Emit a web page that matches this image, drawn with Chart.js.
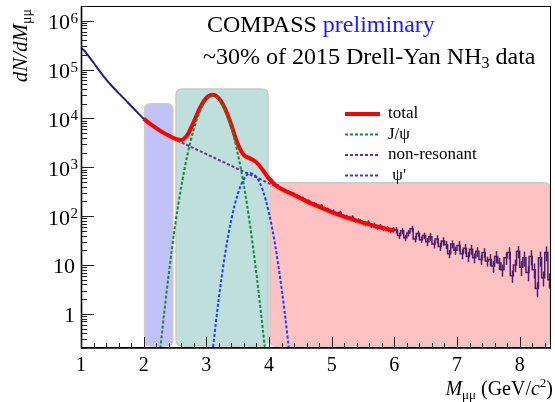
<!DOCTYPE html>
<html>
<head>
<meta charset="utf-8">
<script src="https://cdn.jsdelivr.net/npm/chart.js@4.4.0/dist/chart.umd.min.js"></script>
<style>
  html, body { margin: 0; padding: 0; background: #fff; }
</style>
</head>
<body>
<canvas id="massChart" width="555" height="402"></canvas>
<script>
// === DATA ===
// measured spectrum, smooth low-mass part
const lowMass   = [1.0, 1.05, 1.1, 1.2, 1.3, 1.4, 1.5, 1.6, 1.7, 1.8, 1.9, 2.0, 2.1, 2.2, 2.3, 2.4, 2.5, 2.6, 2.7, 2.8, 2.9, 3.0, 3.1, 3.2, 3.3, 3.4, 3.5, 3.6, 3.7, 3.8, 3.9, 4.0];
const lowCounts = [275000, 245000, 205000, 138000, 92000, 63000, 45000, 33000, 24500, 18000, 13300, 9800, 7700, 6300, 5200, 4400, 3800, 3550, 4500, 8300, 16800, 26500, 30000, 25200, 15900, 7400, 3100, 1800, 1550, 1230, 900, 570];

// measured spectrum, binned high-mass part (0.05 GeV bins from 4.0)
const histStart = 4.0;
const histBinWidth = 0.05;
const histCounts = [
  560, 470, 430, 380, 350, 330, 300, 290, 265, 250,
  235, 215, 205, 185, 180, 160, 165, 145, 140, 128,
  125, 112, 118, 100, 98, 92, 95, 80, 84, 75,
  70, 74, 64, 66, 58, 62, 55, 57, 50, 54,
  52, 40, 50, 36, 45, 55, 34, 44, 33, 40,
  30, 38, 27, 34, 24, 31, 26, 17, 27, 20,
  25, 17, 22, 15, 21, 14, 19, 13, 18, 12,
  13, 9.5, 15, 11, 8, 14, 18, 6, 10, 19,
  9, 14, 7, 15, 8, 3.3, 14, 5.5, 18, 5
];
// relative size of the error bars, one value per 0.5 GeV slice from 4.0
const histRelErr = [0.05, 0.07, 0.09, 0.11, 0.15, 0.19, 0.23, 0.28, 0.34];

// fit components
const fitMass     = [2.0, 2.1, 2.2, 2.3, 2.4, 2.5, 2.6, 2.7, 2.8, 2.9, 3.0, 3.1, 3.2, 3.3, 3.4, 3.5, 3.6, 3.7, 3.8, 3.9, 4.0, 4.1, 4.2, 4.3, 4.4, 4.6, 4.8, 5.0, 5.2, 5.4, 5.6, 5.8, 6.0];
const totalFit    = [9900, 7800, 6350, 5250, 4450, 3850, 3620, 4640, 8550, 16600, 26200, 30400, 25700, 15700, 7260, 3030, 1770, 1520, 1260, 880, 585, 435, 358, 310, 272, 200, 155, 121, 98, 81, 68, 58, 50];
const nonResonant = [9800, 7750, 6300, 5200, 4400, 3750, 3230, 2820, 2450, 2140, 1860, 1620, 1410, 1230, 1070, 930, 810, 710, 620, 540, 470, 410, 355, 310, 270, 200, 155, 120, 98, 81, 68, 58, 50];

const jpsiMass = [2.2, 2.3, 2.4, 2.5, 2.6, 2.7, 2.8, 2.9, 3.0, 3.1, 3.2, 3.3, 3.4, 3.5, 3.6, 3.7, 3.8, 3.9, 4.0];
const jpsiFit  = [0.03, 0.5, 6.5, 62, 400, 1850, 6000, 14200, 24000, 28800, 24800, 15200, 6500, 1950, 420, 62, 6.5, 0.5, 0.03];

const psiMass = [3.0, 3.1, 3.2, 3.3, 3.4, 3.5, 3.6, 3.7, 3.8, 3.9, 4.0, 4.1, 4.2, 4.3, 4.4];
const psiFit  = [0.01, 0.17, 2.1, 17, 87, 280, 575, 755, 630, 340, 115, 25, 3.4, 0.3, 0.016];

// shaded mass regions: [from, to] and top value
const bandRanges = [[2.0, 2.48], [2.5, 4.0], [4.0, 8.5]];
const bandTops   = [20000, 40000, 480];
const bandColors = ['#c2c2fb', '#bfdfdc', '#ffc2c2'];

// axes
const xTickValues = [1, 2, 3, 4, 5, 6, 7, 8];
const yTickExponents = [0, 1, 2, 3, 4, 5, 6];
const legendOrder = ['total', 'J/ψ', 'non-resonant', 'ψ\''];

const SERIF = '"Liberation Serif", "Times New Roman", serif';

function pts(xs, ys) {
    return xs.map((m, i) => ({ x: m, y: ys[i] }));
}

// histogram points on the left bin edges, plus closing edge
const histPoints = histCounts.map((c, i) => ({ x: +(histStart + i * histBinWidth).toFixed(2), y: c }));
histPoints.push({ x: +(histStart + histCounts.length * histBinWidth).toFixed(2), y: histCounts[histCounts.length - 1] });

// === shaded bands behind the curves ===
function roundRect(ctx, x0, y0, x1, y1, r) {
    ctx.beginPath();
    ctx.moveTo(x0 + r, y0);
    ctx.lineTo(x1 - r, y0);
    ctx.quadraticCurveTo(x1, y0, x1, y0 + r);
    ctx.lineTo(x1, y1 - r);
    ctx.quadraticCurveTo(x1, y1, x1 - r, y1);
    ctx.lineTo(x0 + r, y1);
    ctx.quadraticCurveTo(x0, y1, x0, y1 - r);
    ctx.lineTo(x0, y0 + r);
    ctx.quadraticCurveTo(x0, y0, x0 + r, y0);
    ctx.closePath();
}

const bandPlugin = {
    id: 'bands',
    beforeDatasetsDraw(chart) {
        const { ctx, chartArea: a, scales: { x, y } } = chart;
        ctx.save();
        bandRanges.forEach((r, i) => {
            const x0 = x.getPixelForValue(r[0]) + 1;
            const x1 = Math.min(x.getPixelForValue(r[1]), a.right) - 1;
            const y0 = y.getPixelForValue(bandTops[i]);
            const y1 = a.bottom - 2;
            roundRect(ctx, x0, y0, x1, y1, 6);
            ctx.fillStyle = bandColors[i];
            ctx.fill();
            ctx.strokeStyle = '#c9c9c9';
            ctx.lineWidth = 1.5;
            ctx.stroke();
        });
        ctx.restore();
    }
};

// === error bars on the binned data (drawn right after that dataset, under the fit) ===
const errorBarPlugin = {
    id: 'errorBars',
    afterDatasetDraw(chart, args) {
        const ds = chart.data.datasets[args.index];
        if (ds.label !== 'data high') return;
        const { ctx, chartArea: a, scales: { x, y } } = chart;
        ctx.save();
        ctx.beginPath();
        ctx.rect(a.left, a.top, a.right - a.left, a.bottom - a.top);
        ctx.clip();
        ctx.strokeStyle = ds.borderColor;
        ctx.lineWidth = 1.5;
        histCounts.forEach((c, i) => {
            const rel = histRelErr[Math.floor(i / 10)];
            const px = Math.round(x.getPixelForValue(histStart + (i + 0.5) * histBinWidth)) + 0.5;
            ctx.beginPath();
            ctx.moveTo(px, y.getPixelForValue(c * (1 + rel)));
            ctx.lineTo(px, y.getPixelForValue(c * (1 - rel)));
            ctx.stroke();
        });
        ctx.restore();
    }
};

// === ROOT-like frame, ticks, labels, titles, legend ===
const framePlugin = {
    id: 'frame',
    afterDraw(chart) {
        const { ctx, chartArea: a, scales: { x, y } } = chart;
        ctx.save();

        // frame
        ctx.strokeStyle = '#000';
        ctx.lineWidth = 1;
        ctx.strokeRect(a.left + 0.5, a.top + 0.5, a.right - a.left - 1, a.bottom - a.top - 1);
        ctx.lineWidth = 1.6;
        ctx.beginPath();
        ctx.moveTo(a.left + 0.5, a.top);
        ctx.lineTo(a.left + 0.5, a.bottom);
        ctx.lineTo(a.right, a.bottom);
        ctx.stroke();

        // x ticks (minor every 0.2)
        ctx.lineWidth = 1;
        ctx.strokeStyle = '#222';
        for (let i = 0; i <= 37; i++) {
            const v = 1 + i * 0.2;
            if (v > 8.5 + 1e-6) break;
            const px = Math.round(x.getPixelForValue(v)) + 0.5;
            const major = Math.abs(v - Math.round(v)) < 1e-6;
            ctx.beginPath();
            ctx.moveTo(px, a.bottom);
            ctx.lineTo(px, a.bottom - (major ? 11 : 5));
            ctx.stroke();
        }
        // y ticks (log, minor at 2..9)
        for (let e = -1; e <= 6; e++) {
            for (let k = 1; k <= 9; k++) {
                const v = k * Math.pow(10, e);
                if (v < y.min * 0.999 || v > y.max * 1.001) continue;
                const py = Math.round(y.getPixelForValue(v)) + 0.5;
                ctx.beginPath();
                ctx.moveTo(a.left, py);
                ctx.lineTo(a.left + (k === 1 ? 13 : 6), py);
                ctx.stroke();
            }
        }

        // x tick labels
        ctx.fillStyle = '#000';
        ctx.font = '20px ' + SERIF;
        ctx.textAlign = 'center';
        ctx.textBaseline = 'alphabetic';
        xTickValues.forEach(v => {
            ctx.fillText(String(v), x.getPixelForValue(v), 371);
        });

        // y tick labels
        yTickExponents.forEach(e => {
            const py = y.getPixelForValue(Math.pow(10, e));
            ctx.textAlign = 'right';
            ctx.font = '22px ' + SERIF;
            if (e === 0) {
                ctx.fillText('1', 75, py + 8);
            } else if (e === 1) {
                ctx.fillText('10', 75, py + 8);
            } else {
                ctx.fillText('10', 70, py + 8.5);
                ctx.textAlign = 'left';
                ctx.font = '15px ' + SERIF;
                ctx.fillText(String(e), 70.5, py + 2);
            }
        });

        // x axis title: M_μμ (GeV/c²), right aligned to axis end
        const parts = [
            { t: 'M', f: 'italic 20px ' + SERIF, dy: 0 },
            { t: 'μμ', f: '13px ' + SERIF, dy: 4 },
            { t: ' (GeV/', f: '20px ' + SERIF, dy: 0 },
            { t: 'c', f: 'italic 20px ' + SERIF, dy: 0 },
            { t: '2', f: '13px ' + SERIF, dy: -8 },
            { t: ')', f: '20px ' + SERIF, dy: 0 }
        ];
        let total = 0;
        parts.forEach(p => { ctx.font = p.f; p.w = ctx.measureText(p.t).width; total += p.w; });
        let cx = 553 - total;
        ctx.textAlign = 'left';
        parts.forEach(p => {
            ctx.font = p.f;
            ctx.fillText(p.t, cx, 395 + p.dy);
            cx += p.w;
        });

        // y axis title: dN/dM_μμ, rotated, ending near the top of the axis
        ctx.save();
        ctx.translate(27, 0);
        ctx.rotate(-Math.PI / 2);
        const yParts = [
            { t: 'dN/dM', f: 'italic 21px ' + SERIF, dy: 0 },
            { t: 'μμ', f: '14px ' + SERIF, dy: 4 }
        ];
        let yTotal = 0;
        yParts.forEach(p => { ctx.font = p.f; p.w = ctx.measureText(p.t).width; yTotal += p.w; });
        let cy = -9 - yTotal;
        yParts.forEach(p => {
            ctx.font = p.f;
            ctx.fillText(p.t, cy, p.dy);
            cy += p.w;
        });
        ctx.restore();

        // header text
        ctx.font = '24px ' + SERIF;
        ctx.fillStyle = '#000';
        ctx.fillText('COMPASS ', 207, 32);
        const wC = ctx.measureText('COMPASS ').width;
        ctx.fillStyle = '#1a1aff';
        ctx.fillText('preliminary', 207 + wC, 32);

        ctx.fillStyle = '#000';
        const l2a = '~30% of 2015 Drell-Yan NH';
        ctx.fillText(l2a, 203, 64);
        let lx = 203 + ctx.measureText(l2a).width;
        ctx.font = '16px ' + SERIF;
        ctx.fillText('3', lx, 68);
        lx += ctx.measureText('3').width;
        ctx.font = '24px ' + SERIF;
        ctx.fillText(' data', lx, 64);

        // legend
        ctx.font = '17px ' + SERIF;
        ctx.textBaseline = 'middle';
        legendOrder.forEach((lab, i) => {
            const ds = chart.data.datasets.find(d => d.label === lab);
            const yy = 114 + i * 20.5;
            ctx.strokeStyle = ds.borderColor;
            ctx.lineWidth = ds.borderWidth;
            ctx.setLineDash(ds.borderDash || []);
            ctx.beginPath();
            ctx.moveTo(345, yy);
            ctx.lineTo(380, yy);
            ctx.stroke();
            ctx.setLineDash([]);
            ctx.fillStyle = '#000';
            ctx.fillText(lab === 'ψ\'' ? ' ψ\'' : lab, 388, yy);
        });

        ctx.restore();
    }
};

// === CHART ===
const ctx = document.getElementById('massChart').getContext('2d');
new Chart(ctx, {
    type: 'line',
    data: {
        datasets: [
            {
                label: 'ψ\'',
                data: pts(psiMass, psiFit),
                borderColor: '#1f3cff',
                borderWidth: 2,
                borderDash: [3, 2],
                cubicInterpolationMode: 'monotone',
                pointRadius: 0,
                order: 0
            },
            {
                label: 'J/ψ',
                data: pts(jpsiMass, jpsiFit),
                borderColor: '#16883a',
                borderWidth: 2,
                borderDash: [3, 2],
                cubicInterpolationMode: 'monotone',
                pointRadius: 0,
                order: 1
            },
            {
                label: 'total',
                data: pts(fitMass, totalFit),
                borderColor: '#ff0000',
                borderWidth: 4,
                cubicInterpolationMode: 'monotone',
                pointRadius: 0,
                order: 2
            },
            {
                label: 'non-resonant',
                data: pts(fitMass, nonResonant),
                borderColor: '#6a2f92',
                borderWidth: 2,
                borderDash: [3, 2],
                cubicInterpolationMode: 'monotone',
                pointRadius: 0,
                order: 3
            },
            {
                label: 'data high',
                data: histPoints,
                borderColor: '#4a1f6e',
                borderWidth: 1.5,
                stepped: 'before',
                pointRadius: 0,
                order: 4
            },
            {
                label: 'data low',
                data: pts(lowMass, lowCounts),
                borderColor: '#1e1e84',
                borderWidth: 2,
                cubicInterpolationMode: 'monotone',
                pointRadius: 0,
                order: 5
            }
        ]
    },
    options: {
        responsive: false,
        animation: false,
        layout: { padding: { top: 6, right: 4, left: 0, bottom: 0 } },
        plugins: {
            legend: { display: false },
            tooltip: { enabled: false },
            title: { display: false }
        },
        scales: {
            x: {
                type: 'linear',
                min: 1,
                max: 8.5,
                bounds: 'data',
                grid: { display: false },
                border: { display: false },
                ticks: { display: false },
                afterFit(scale) { scale.height = 54; }
            },
            y: {
                type: 'logarithmic',
                min: 0.2,
                max: 2000000,
                bounds: 'data',
                grid: { display: false },
                border: { display: false },
                ticks: { display: false },
                afterFit(scale) { scale.width = 81; }
            }
        }
    },
    plugins: [bandPlugin, errorBarPlugin, framePlugin]
});
</script>
</body>
</html>
